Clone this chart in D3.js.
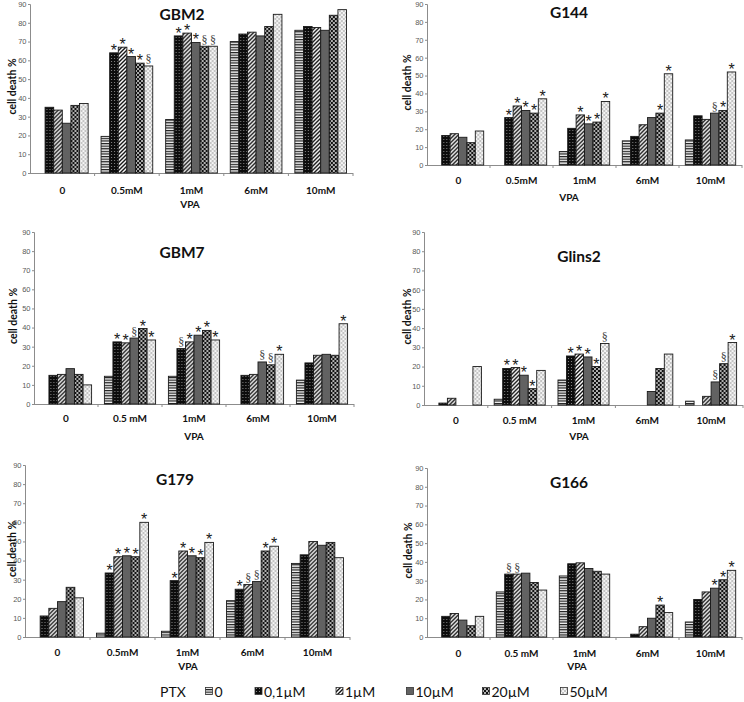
<!DOCTYPE html>
<html>
<head>
<meta charset="utf-8">
<script src="https://cdn.jsdelivr.net/npm/d3@7"></script>
<style>
  html, body { margin: 0; padding: 0; background: #fff; }
  svg { display: block; }
  text { -webkit-font-smoothing: antialiased; }
  .tick-lbl { font-family: "Liberation Sans", Arial, sans-serif; font-size: 7.5px; fill: #595959; }
  .cat-lbl { font-family: Lato, "Open Sans", sans-serif; font-weight: bold; font-size: 10px; fill: #111; }
  .ttl { font-family: Lato, "Open Sans", sans-serif; font-weight: bold; font-size: 15.5px; fill: #111; }
  .ylab { font-family: Lato, "Open Sans", sans-serif; font-weight: bold; font-size: 10.5px; fill: #111; }
  .leg { font-family: Lato, "Open Sans", sans-serif; font-size: 14px; fill: #111; }
  .star { font-family: "Liberation Sans", Arial, sans-serif; font-size: 16px; fill: #1a1a1a; }
  .sect { font-family: "Liberation Serif", serif; font-size: 12px; fill: #444; }
</style>
</head>
<body>
<svg id="chart" width="744" height="702"></svg>
<script>
// ---------- DATA ----------
const ptxLevels = ["0", "0,1µM", "1µM", "10µM", "20µM", "50µM"];
const vpaCatsA = ["0", "0.5mM", "1mM", "6mM", "10mM"];
const vpaCatsB = ["0", "0.5 mM", "1mM", "6mM", "10mM"];
const yTicks = [0, 10, 20, 30, 40, 50, 60, 70, 80, 90];
const panelNames = ["GBM2", "G144", "GBM7", "Glins2", "G179", "G166"];

// values per VPA group (rows) x PTX level (columns)
const gbm2 = [
  [0, 35, 33.5, 26.5, 36, 37],
  [19.5, 64, 67, 62, 58.5, 57],
  [28.5, 73, 74.5, 69.5, 67.5, 67.5],
  [70, 74, 75, 73, 78, 84.5],
  [76, 78, 77.5, 76, 84, 87]
];
const gbm2Marks = [
  ["", "", "", "", "", ""],
  ["", "*", "*", "*", "*", "§"],
  ["", "*", "*", "*", "§", "§"],
  ["", "", "", "", "", ""],
  ["", "", "", "", "", ""]
];
const g144 = [
  [0, 16.5, 17.5, 15.5, 12.5, 19],
  [0, 26.5, 33, 30.5, 29, 37],
  [7.5, 20.5, 28, 23, 24, 35.5],
  [13.5, 16, 22.5, 26.5, 29, 51],
  [14, 27.5, 25.5, 29, 30.5, 52]
];
const g144Marks = [
  ["", "", "", "", "", ""],
  ["", "*", "*", "*", "*", "*"],
  ["", "", "*", "*", "*", "*"],
  ["", "", "", "", "*", "*"],
  ["", "", "", "§", "*", "*"]
];
const gbm7 = [
  [0, 15, 15.5, 18.5, 15.5, 10],
  [14.5, 32.5, 32, 34.5, 39.5, 33.5],
  [14.5, 29, 32.5, 36, 38.5, 33.5],
  [0, 15, 15.5, 22, 20.5, 26],
  [12.5, 21.5, 25.5, 26, 25.5, 42]
];
const gbm7Marks = [
  ["", "", "", "", "", ""],
  ["", "*", "*", "§", "*", "*"],
  ["", "§", "*", "*", "*", "*"],
  ["", "", "", "§", "§", "*"],
  ["", "", "", "", "", "*"]
];
const glins2 = [
  [0, 1, 3.5, 0, 0, 20],
  [3, 19, 19.5, 15.5, 8.5, 18],
  [13, 25.5, 26.5, 25, 20, 32],
  [0, 0, 0, 7, 19, 26.5],
  [2, 0, 4.5, 12, 21.5, 32.5]
];
const glins2Marks = [
  ["", "", "", "", "", ""],
  ["", "*", "*", "*", "*", ""],
  ["", "*", "*", "*", "*", "§"],
  ["", "", "", "", "", ""],
  ["", "", "", "§", "§", "*"]
];
const g179 = [
  [0, 11, 15, 18.5, 26, 20.5],
  [2, 33.5, 42, 42.5, 42, 60],
  [3, 29.5, 45, 42.5, 41.5, 49.5],
  [19, 25, 27.5, 29, 45, 47.5],
  [38.5, 43, 50, 48, 49.5, 41.5]
];
const g179Marks = [
  ["", "", "", "", "", ""],
  ["", "*", "*", "*", "*", "*"],
  ["", "*", "*", "*", "*", "*"],
  ["", "*", "§", "§", "*", "*"],
  ["", "", "", "", "", ""]
];
const g166 = [
  [0, 11, 12.5, 9, 6, 11],
  [24, 33.5, 33.5, 34, 29, 25],
  [32.5, 39, 39.5, 36.5, 35, 33.5],
  [0, 1.5, 5.5, 10, 17, 13],
  [8, 20, 24, 26, 30.5, 35.5]
];
const g166Marks = [
  ["", "", "", "", "", ""],
  ["", "§", "§", "", "", ""],
  ["", "", "", "", "", ""],
  ["", "", "", "", "*", ""],
  ["", "", "", "*", "*", "*"]
];

// ---------- LAYOUT ----------
const panels = [
  { name: panelNames[0], vals: gbm2,   marks: gbm2Marks,   cats: vpaCatsA, left: 30,  right: 353, top: 4,   bottom: 173, titleX: 182, titleY: 20,  catY: 194, vpaX: 190, vpaY: 208, ylabX: 16 },
  { name: panelNames[1], vals: g144,   marks: g144Marks,   cats: vpaCatsA, left: 427, right: 742, top: 4,   bottom: 165, titleX: 569, titleY: 18,  catY: 184, vpaX: 569, vpaY: 201, ylabX: 411 },
  { name: panelNames[2], vals: gbm7,   marks: gbm7Marks,   cats: vpaCatsB, left: 34,  right: 354, top: 232, bottom: 404, titleX: 182, titleY: 258, catY: 422, vpaX: 194, vpaY: 440, ylabX: 17 },
  { name: panelNames[3], vals: glins2, marks: glins2Marks, cats: vpaCatsB, left: 424, right: 743, top: 232, bottom: 405, titleX: 579, titleY: 262, catY: 424, vpaX: 579, vpaY: 440, ylabX: 411 },
  { name: panelNames[4], vals: g179,   marks: g179Marks,   cats: vpaCatsA, left: 25,  right: 350, top: 465, bottom: 637, titleX: 175, titleY: 485, catY: 656, vpaX: 188, vpaY: 670, ylabX: 16 },
  { name: panelNames[5], vals: g166,   marks: g166Marks,   cats: vpaCatsB, left: 427, right: 742, top: 468, bottom: 637, titleX: 569, titleY: 488, catY: 657, vpaX: 577, vpaY: 670, ylabX: 412 }
];

const svg = d3.select("#chart");
const defs = svg.append("defs");

// patterns for the six PTX levels
function pat(id, w, h) {
  return defs.append("pattern").attr("id", id).attr("patternUnits", "userSpaceOnUse")
    .attr("width", w).attr("height", h);
}
let p;
p = pat("p0", 4, 2.6);
p.append("rect").attr("width", 4).attr("height", 2.6).attr("fill", "#f2f2f2");
p.append("rect").attr("y", 0).attr("width", 4).attr("height", 1.2).attr("fill", "#1e1e1e");

p = pat("p1", 3, 3);
p.append("rect").attr("width", 3).attr("height", 3).attr("fill", "#0c0c0c");
p.append("circle").attr("cx", 1.5).attr("cy", 1.5).attr("r", 0.55).attr("fill", "#9a9a9a");

p = pat("p2", 4, 4);
p.append("rect").attr("width", 4).attr("height", 4).attr("fill", "#fff");
p.append("path").attr("d", "M-1,1 L1,-1 M0,4 L4,0 M3,5 L5,3").attr("stroke", "#111").attr("stroke-width", 1.4);

p = pat("p3", 4, 4);
p.append("rect").attr("width", 4).attr("height", 4).attr("fill", "#626262");

p = pat("p4", 4, 4);
p.append("rect").attr("width", 4).attr("height", 4).attr("fill", "#111");
p.append("circle").attr("cx", 1).attr("cy", 1).attr("r", 0.95).attr("fill", "#f4f4f4");
p.append("circle").attr("cx", 3).attr("cy", 3).attr("r", 0.95).attr("fill", "#f4f4f4");

p = pat("p5", 4, 4);
p.append("rect").attr("width", 4).attr("height", 4).attr("fill", "#c4c4c4");
p.append("circle").attr("cx", 1).attr("cy", 1).attr("r", 1.05).attr("fill", "#fbfbfb");
p.append("circle").attr("cx", 3).attr("cy", 3).attr("r", 1.05).attr("fill", "#fbfbfb");

const fills = ptxLevels.map((d, i) => `url(#p${i})`);
const color = d3.scaleOrdinal().domain(ptxLevels).range(fills);

panels.forEach(cfg => {
  const g = svg.append("g");
  const x0 = d3.scaleBand().domain(cfg.cats).range([cfg.left, cfg.right]).paddingInner(0.2).paddingOuter(0.1);
  const x1 = d3.scaleBand().domain(ptxLevels).range([0, x0.bandwidth()]).padding(0);
  const y = d3.scaleLinear().domain([0, 90]).range([cfg.bottom, cfg.top]);

  // y axis
  const yAx = g.append("g").attr("transform", `translate(${cfg.left},0)`)
    .call(d3.axisLeft(y).tickValues(yTicks).tickSize(2).tickPadding(1.5).tickFormat(d3.format("d")));
  yAx.select(".domain").attr("stroke", "#8c8c8c").attr("stroke-width", 1);
  yAx.selectAll(".tick line").attr("stroke", "#8c8c8c");
  yAx.selectAll(".tick text").attr("class", "tick-lbl").attr("font-size", null).attr("font-family", null).attr("fill", null);
  yAx.attr("font-size", null).attr("font-family", null);

  // x axis (line + boundary ticks)
  const xAx = g.append("g").attr("transform", `translate(0,${cfg.bottom})`)
    .call(d3.axisBottom(x0).tickSize(0).tickFormat(""));
  xAx.select(".domain").attr("stroke", "#8c8c8c").attr("stroke-width", 1).attr("d", `M${cfg.left},0.5H${cfg.right}`);
  xAx.selectAll(".tick").remove();
  const bounds = d3.range(1, cfg.cats.length + 1).map(i => cfg.left + i * x0.step());
  xAx.selectAll("line.bt").data(bounds).join("line").attr("class", "bt")
    .attr("x1", d => d).attr("x2", d => d).attr("y1", 0).attr("y2", 3).attr("stroke", "#8c8c8c");

  // category labels
  g.selectAll("text.cat").data(cfg.cats).join("text").attr("class", "cat-lbl")
    .attr("x", d => x0(d) + x0.bandwidth() / 2).attr("y", cfg.catY).attr("text-anchor", "middle").text(d => d);

  // bars
  cfg.cats.forEach((cat, gi) => {
    const row = cfg.vals[gi];
    const mrow = cfg.marks[gi];
    const gg = g.append("g").attr("transform", `translate(${x0(cat)},0)`);
    gg.selectAll("rect").data(ptxLevels.map((k, j) => ({ k, v: row[j] })).filter(d => d.v > 0)).join("rect")
      .attr("x", d => x1(d.k)).attr("width", x1.bandwidth())
      .attr("y", d => y(d.v)).attr("height", d => y(0) - y(d.v))
      .attr("fill", d => color(d.k)).attr("stroke", "#1a1a1a").attr("stroke-width", 0.9);
    gg.selectAll("text").data(ptxLevels.map((k, j) => ({ k, v: row[j], m: mrow[j] })).filter(d => d.m)).join("text")
      .attr("class", d => d.m === "*" ? "star" : "sect")
      .attr("x", d => x1(d.k) + x1.bandwidth() / 2)
      .attr("y", d => y(d.v) - (d.m === "*" ? -3 : 2.5))
      .attr("text-anchor", "middle").text(d => d.m);
  });

  // title
  g.append("text").attr("class", "ttl").attr("x", cfg.titleX).attr("y", cfg.titleY).attr("text-anchor", "middle").text(cfg.name);
  // y label
  const ymid = (cfg.top + cfg.bottom) / 2 - 2;
  g.append("text").attr("class", "ylab").attr("transform", `translate(${cfg.ylabX},${ymid}) rotate(-90)`)
    .attr("text-anchor", "middle").text("cell death %");
  // VPA label
  g.append("text").attr("class", "cat-lbl").attr("x", cfg.vpaX).attr("y", cfg.vpaY).attr("text-anchor", "middle").text("VPA");
});

// ---------- LEGEND ----------
const legendSwatchX = [205.5, 255, 336, 406.5, 482.5, 560.5];
const leg = svg.append("g");
leg.append("text").attr("class", "leg").attr("x", 160).attr("y", 697).text("PTX");
leg.selectAll("rect").data(ptxLevels).join("rect")
  .attr("x", (d, i) => legendSwatchX[i]).attr("y", 687.5).attr("width", 7).attr("height", 7)
  .attr("fill", d => color(d)).attr("stroke", "#333").attr("stroke-width", 0.8);
leg.selectAll("text.li").data(ptxLevels).join("text").attr("class", "leg li")
  .attr("x", (d, i) => legendSwatchX[i] + 9).attr("y", 697).text(d => d);
</script>
</body>
</html>
